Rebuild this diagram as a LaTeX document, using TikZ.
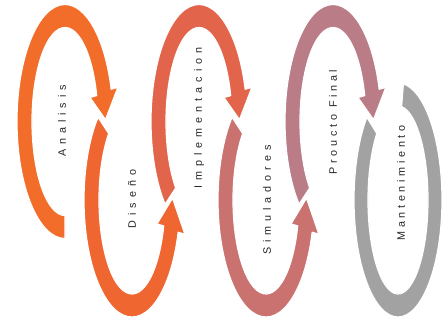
\documentclass[tikz,border=0pt]{standalone}
\usepackage{fontspec}
\setmainfont{Liberation Sans}
\newfontfamily\lblfont[LetterSpace=46]{Liberation Sans}
\newfontfamily\lblfontb[LetterSpace=34]{Liberation Sans}
\usetikzlibrary{calc}
\definecolor{rA}{RGB}{242,108,42}
\definecolor{rB}{RGB}{240,102,48}
\definecolor{rC}{RGB}{226,100,74}
\definecolor{rD}{RGB}{201,114,112}
\definecolor{rE}{RGB}{186,124,134}
\definecolor{rF}{RGB}{162,162,162}
\definecolor{txt}{RGB}{40,40,40}
\tikzset{
  ringshape/.style={draw=white,line width=1.2pt,line join=round},
  lbl/.style={rotate=90,text=txt,font=\lblfont\fontsize{10.8}{12}\selectfont,inner sep=0pt},
  lblb/.style={rotate=90,text=txt,font=\lblfontb\fontsize{10.8}{12}\selectfont,inner sep=0pt}
}
\begin{document}
\begin{tikzpicture}[x=1pt,y=1pt]
\useasboundingbox (0,0) rectangle (448,331);
\fill[white] (0,0) rectangle (448,331);
\coordinate (c1) at (65,209.5);
\coordinate (c2) at (132,131);
\coordinate (c3) at (199,209.5);
\coordinate (c4) at (266,131);
\coordinate (c5) at (333,209.5);
\coordinate (c6) at (398,131);
% ring 1 (top)
\filldraw[ringshape,fill=rA] ($(c1)+(270:48 and 117)$) arc[start angle=270,end angle=16,x radius=48,y radius=117]
  -- ($(c1)+(16:55 and 124)$) -- ($(c1)+(1:40.5 and 105.5)$) -- ($(c1)+(16:26 and 87)$)
  -- ($(c1)+(16:33 and 94)$) arc[start angle=16,end angle=270,x radius=33,y radius=94] -- cycle;
% ring 2 (bottom)
\filldraw[ringshape,fill=rB] ($(c2)+(135:48 and 117)$) arc[start angle=135,end angle=344,x radius=48,y radius=117]
  -- ($(c2)+(344:55 and 124)$) -- ($(c2)+(361:40.5 and 105.5)$) -- ($(c2)+(344:26 and 87)$)
  -- ($(c2)+(344:33 and 94)$) arc[start angle=344,end angle=135,x radius=33,y radius=94] -- cycle;
% ring 3 (top)
\filldraw[ringshape,fill=rC] ($(c3)+(225:48 and 117)$) arc[start angle=225,end angle=16,x radius=48,y radius=117]
  -- ($(c3)+(16:55 and 124)$) -- ($(c3)+(1:40.5 and 105.5)$) -- ($(c3)+(16:26 and 87)$)
  -- ($(c3)+(16:33 and 94)$) arc[start angle=16,end angle=225,x radius=33,y radius=94] -- cycle;
% ring 4 (bottom)
\filldraw[ringshape,fill=rD] ($(c4)+(135:48 and 117)$) arc[start angle=135,end angle=344,x radius=48,y radius=117]
  -- ($(c4)+(344:55 and 124)$) -- ($(c4)+(361:40.5 and 105.5)$) -- ($(c4)+(344:26 and 87)$)
  -- ($(c4)+(344:33 and 94)$) arc[start angle=344,end angle=135,x radius=33,y radius=94] -- cycle;
% ring 5 (top)
\filldraw[ringshape,fill=rE] ($(c5)+(225:48 and 117)$) arc[start angle=225,end angle=16,x radius=48,y radius=117]
  -- ($(c5)+(16:55 and 124)$) -- ($(c5)+(1:40.5 and 105.5)$) -- ($(c5)+(16:26 and 87)$)
  -- ($(c5)+(16:33 and 94)$) arc[start angle=16,end angle=225,x radius=33,y radius=94] -- cycle;
% ring 6 (bottom, no arrow)
\filldraw[ringshape,fill=rF] ($(c6)+(135:44 and 117)$) arc[start angle=135,end angle=443,x radius=44,y radius=117]
  -- ($(c6)+(443:30 and 94)$) arc[start angle=443,end angle=135,x radius=30,y radius=94] -- cycle;
% labels
\node[lbl] (t1) at (62,210) {Analisis};
\node[lbl] (t2) at (132,132) {Diseño};
\node[lbl] (t3) at (199,213) {Implementacion};
\node[lbl] (t4) at (267,131) {Simuladores};
\node[lblb] (t5) at (333,209) {Proucto\hspace{7pt}Final};
\node[lblb] (t6) at (401,148) {Mantenimiento};
\end{tikzpicture}
\end{document}
